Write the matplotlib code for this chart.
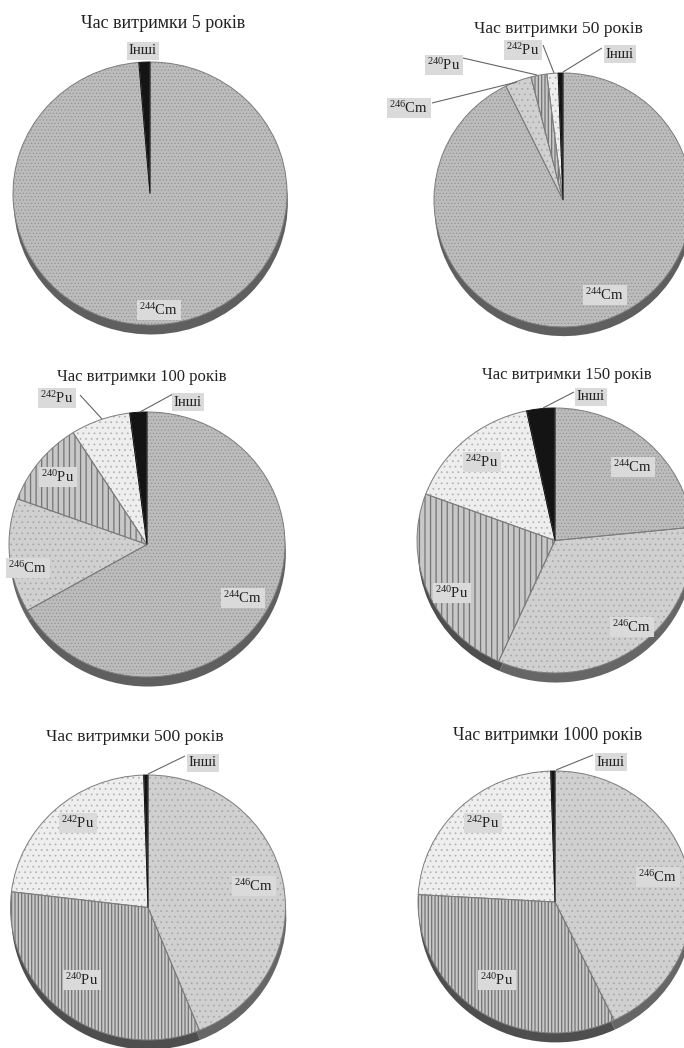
import matplotlib
matplotlib.use('Agg')
import matplotlib.pyplot as plt

W = 684
H = 1048

plt.rcParams['font.family'] = ['Liberation Serif', 'DejaVu Serif']
plt.rcParams['mathtext.default'] = 'regular'

# Share of each nuclide, percent, clockwise from twelve o'clock
isotopes_5 = ['Cm244', 'Other']
shares_5 = [98.7, 1.3]

isotopes_50 = ['Cm244', 'Cm246', 'Pu240', 'Pu242', 'Other']
shares_50 = [92.7, 3.3, 2.0, 1.4, 0.6]

isotopes_100 = ['Cm244', 'Cm246', 'Pu240', 'Pu242', 'Other']
shares_100 = [66.7, 13.9, 10.4, 7.0, 2.0]

isotopes_150 = ['Cm244', 'Cm246', 'Pu240', 'Pu242', 'Other']
shares_150 = [23.4, 33.3, 24.0, 16.0, 3.3]

isotopes_500 = ['Cm246', 'Pu240', 'Pu242', 'Other']
shares_500 = [43.9, 33.0, 22.6, 0.5]

isotopes_1000 = ['Cm246', 'Pu240', 'Pu242', 'Other']
shares_1000 = [42.9, 33.0, 23.6, 0.5]

names = {'Cm244': '$^{244}$Cm', 'Cm246': '$^{246}$Cm', 'Pu240': '$^{240}$Pu',
         'Pu242': '$^{242}$Pu', 'Other': 'Інші'}

# face, hatch colour, hatch, hatch width
styles = {'Cm244': ('#bcbcbc', '#909090', '.....', 0.45),
          'Cm246': ('#d0d0d0', '#a6a6a6', '...', 0.5),
          'Pu240': ('#c8c8c8', '#747474', '|||||', 0.9),
          'Pu242': ('#eeeeee', '#b0b0b0', '...', 0.5),
          'Other': ('#141414', '#141414', None, 0.5)}
shade = {'Cm244': '#5f5f5f', 'Cm246': '#666666', 'Pu240': '#4e4e4e',
         'Pu242': '#777777', 'Other': '#222222'}

fig = plt.figure(figsize=(W / 100, H / 100), dpi=100, facecolor='white')


def draw_pie(cx, cy, rx, ry, isotopes, shares, coarse=False):
    ax = fig.add_axes([(cx - rx) / W, 1 - (cy + ry) / H, 2 * rx / W, 2 * ry / H])
    # darker copy lower down gives the thick rim of the disc
    ax.pie(shares, startangle=90, counterclock=False, radius=1, center=(0.006, -0.072),
           colors=[shade[k] for k in isotopes], wedgeprops={'linewidth': 0},
           frame=True)
    wedges, _ = ax.pie(shares, startangle=90, counterclock=False, radius=1,
                       frame=True)
    for w, k in zip(wedges, isotopes):
        face, line, hatch, width = styles[k]
        if k == 'Pu240' and coarse:
            hatch = '|||'
        w.set_facecolor(face)
        w.set_edgecolor(line)
        w.set_linewidth(0)
        w.set_hatch(hatch)
        w.set_hatch_linewidth(width)
    # thin outline over the textures, black slice last so it stays solid
    outline, _ = ax.pie(shares, startangle=90, counterclock=False, radius=1, frame=True,
                        wedgeprops={'fill': False, 'edgecolor': '#7c7c7c', 'linewidth': 0.7})
    outline[-1].set_edgecolor('#141414')
    outline[-1].set_zorder(3)
    for p in ax.patches:
        p.set_clip_on(False)
    ax.set_aspect('auto')
    ax.set_xlim(-1, 1)
    ax.set_ylim(-1, 1)
    ax.axis('off')


draw_pie(150, 193.5, 137, 131.5, isotopes_5, shares_5)
draw_pie(563, 200, 129, 127, isotopes_50, shares_50)
draw_pie(147, 544.5, 138, 132.5, isotopes_100, shares_100, coarse=True)
draw_pie(555, 540.5, 138, 132.5, isotopes_150, shares_150, coarse=True)
draw_pie(148, 907.5, 137.5, 132.5, isotopes_500, shares_500)
draw_pie(555, 902, 137, 131, isotopes_1000, shares_1000)

# Titles, callouts and leader lines are laid out in pixel coordinates
top = fig.add_axes([0, 0, 1, 1], facecolor='none')
top.set_xlim(0, W)
top.set_ylim(H, 0)
top.axis('off')

titles = ['Час витримки 5 років', 'Час витримки 50 років', 'Час витримки 100 років',
          'Час витримки 150 років', 'Час витримки 500 років', 'Час витримки 1000 років']
title_xy = [(163, 24), (558, 29), (142, 377), (567, 375), (135, 737), (548, 736)]
title_size = [13, 12.6, 12, 12, 12.6, 12.8]
for t, (x, y), s in zip(titles, title_xy, title_size):
    top.text(x, y, t, fontsize=s, color='#222222', ha='center', va='center')

callouts = [('Other', 143, 51), ('Cm244', 159, 310),
            ('Other', 620, 54), ('Pu242', 523, 50), ('Pu240', 444, 65),
            ('Cm246', 409, 108), ('Cm244', 605, 295),
            ('Pu242', 57, 398), ('Pu240', 58, 477), ('Cm246', 28, 568),
            ('Cm244', 243, 598), ('Other', 188, 402),
            ('Other', 591, 397), ('Cm244', 633, 467), ('Pu242', 482, 462),
            ('Pu240', 452, 593), ('Cm246', 632, 627),
            ('Other', 203, 763), ('Pu242', 78, 823), ('Cm246', 254, 886),
            ('Pu240', 82, 980),
            ('Other', 611, 762), ('Pu242', 483, 823), ('Cm246', 658, 877),
            ('Pu240', 497, 980)]
for k, x, y in callouts:
    top.text(x, y, names[k], fontsize=10.6, color='#222222', ha='center', va='center',
             bbox={'boxstyle': 'square,pad=0.16', 'facecolor': '#dadada', 'edgecolor': 'none'})

leaders = [((602, 48), (563, 72)), ((543, 45), (554, 73)), ((463, 58), (537, 75)),
           ((432, 103), (517, 82)),
           ((173, 394), (140, 412)), ((80, 395), (102, 419)),
           ((574, 392), (543, 408)),
           ((185, 756), (148, 774)),
           ((593, 755), (556, 770))]
for (x0, y0), (x1, y1) in leaders:
    top.plot([x0, x1], [y0, y1], color='#666666', lw=0.8, solid_capstyle='butt')

fig.savefig('out.png', dpi=100)
